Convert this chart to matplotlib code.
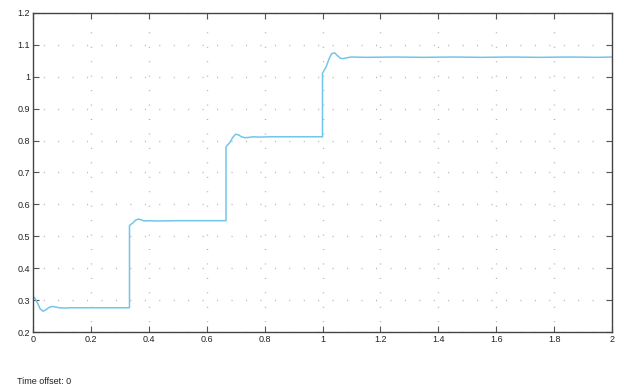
import matplotlib
matplotlib.use("Agg")
import matplotlib.pyplot as plt

# Signal (time, value)
t_seg1 = [0.0, 0.005, 0.015, 0.025, 0.035, 0.045, 0.055, 0.065, 0.075, 0.09, 0.11, 0.13, 0.16, 0.2, 0.3333]
y_seg1 = [0.310, 0.308, 0.292, 0.272, 0.265, 0.270, 0.277, 0.280, 0.279, 0.276, 0.275, 0.276, 0.276, 0.276, 0.276]

t_seg2 = [0.3333, 0.336, 0.345, 0.355, 0.365, 0.375, 0.385, 0.40, 0.43, 0.5, 0.6, 0.6667]
y_seg2 = [0.533, 0.536, 0.542, 0.551, 0.554, 0.551, 0.548, 0.549, 0.548, 0.549, 0.549, 0.549]

t_seg3 = [0.6667, 0.670, 0.680, 0.690, 0.700, 0.710, 0.720, 0.732, 0.745, 0.76, 0.78, 0.82, 0.9, 1.0]
y_seg3 = [0.780, 0.784, 0.794, 0.810, 0.820, 0.818, 0.812, 0.809, 0.810, 0.812, 0.811, 0.812, 0.812, 0.812]

t_seg4 = [1.0, 1.003, 1.012, 1.022, 1.032, 1.042, 1.052, 1.062, 1.072, 1.085, 1.10, 1.15, 1.25, 1.35, 1.45, 1.55, 1.65, 1.75, 1.85, 1.95, 2.0]
y_seg4 = [1.012, 1.016, 1.030, 1.055, 1.073, 1.075, 1.066, 1.058, 1.057, 1.060, 1.062, 1.061, 1.062, 1.061, 1.062, 1.061, 1.062, 1.061, 1.062, 1.061, 1.062]

t = t_seg1 + t_seg2 + t_seg3 + t_seg4
y = y_seg1 + y_seg2 + y_seg3 + y_seg4

x_ticks = [0, 0.2, 0.4, 0.6, 0.8, 1, 1.2, 1.4, 1.6, 1.8, 2]
x_labels = ["0", "0.2", "0.4", "0.6", "0.8", "1", "1.2", "1.4", "1.6", "1.8", "2"]
y_ticks = [0.2, 0.3, 0.4, 0.5, 0.6, 0.7, 0.8, 0.9, 1.0, 1.1, 1.2]
y_labels = ["0.2", "0.3", "0.4", "0.5", "0.6", "0.7", "0.8", "0.9", "1", "1.1", "1.2"]

plt.rcParams['font.family'] = ['Liberation Sans', 'DejaVu Sans']

fig = plt.figure(figsize=(6.26, 3.85), dpi=100)
ax = fig.add_axes([33/626, 1 - 332/385, 579/626, 319/385])

ax.plot(t, y, color='#72C6EA', lw=1.1, solid_joinstyle='round')

ax.set_xlim(0, 2)
ax.set_ylim(0.2, 1.2)
ax.set_xticks(x_ticks)
ax.set_xticklabels(x_labels)
ax.set_yticks(y_ticks)
ax.set_yticklabels(y_labels)

ax.grid(True, color='#b0b0b0', lw=1.0, linestyle=(3, (0.7, 9.7)))
ax.tick_params(direction='in', length=4, width=0.8, color='#555555',
               top=True, right=True, labelsize=6.5, pad=2, labelcolor='#222222')
for s in ax.spines.values():
    s.set_color('#444444')
    s.set_linewidth(1.0)

fig.text(17/626, 1 - 381/385, "Time offset: 0", fontsize=6.5, color='#222222',
         ha='left', va='center')

fig.savefig("out.png", dpi=100, facecolor='white')
